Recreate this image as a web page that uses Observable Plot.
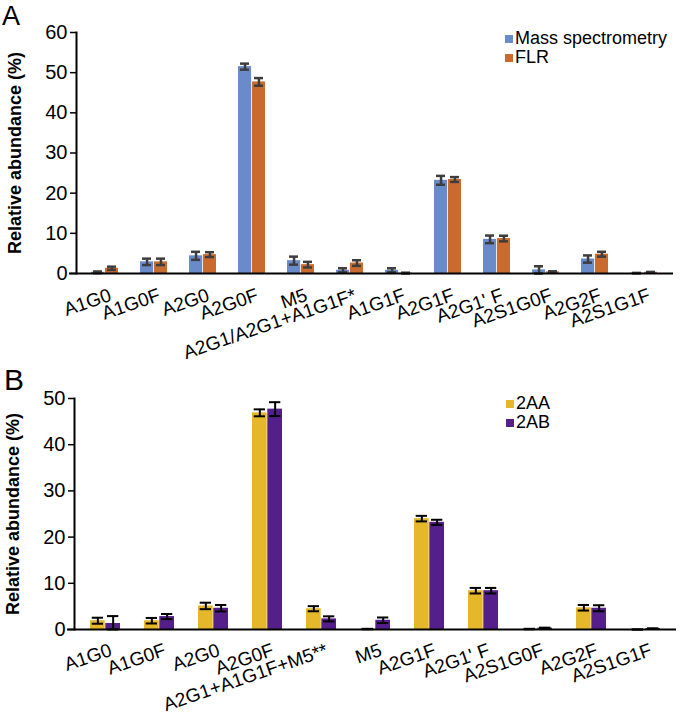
<!DOCTYPE html>
<html><head><meta charset="utf-8">
<script src="https://cdn.jsdelivr.net/npm/d3@7"></script>
<script src="https://cdn.jsdelivr.net/npm/@observablehq/plot@0.6"></script>
<style>
body{margin:0;background:#fff;font-family:"Liberation Sans",Arial,sans-serif;}
#wrap{position:relative;width:680px;height:714px;overflow:hidden;}
.panel{position:absolute;left:0;width:680px;}
.letter{position:absolute;color:#000;line-height:1.15;}
.legend{position:absolute;font-size:18px;color:#000;}
.legend .row{display:flex;align-items:center;height:19px;line-height:19px;white-space:nowrap;}
.legend .sw{display:inline-block;width:8px;height:8px;margin-right:2px;}
</style></head><body>
<div id="wrap">
  <div class="panel" id="pa" style="top:0px"></div>
  <div class="panel" id="pb" style="top:360px"></div>
  <div class="letter" style="left:2px;top:1px;font-size:27px">A</div>
  <div class="letter" style="left:4px;top:363px;font-size:30px">B</div>
  <div class="legend" id="legA" style="left:505px;top:29px"></div>
  <div class="legend" id="legB" style="left:506px;top:394px"></div>
</div>
<script>
// ---------- Panel A data ----------
const catsA = ["A1G0","A1G0F","A2G0","A2G0F","M5","A2G1/A2G1+A1G1F*","A1G1F","A2G1F","A2G1' F","A2S1G0F","A2G2F","A2S1G1F"];
const seriesA = ["Mass spectrometry","FLR"];
const msA     = [0.3, 2.9, 4.4, 51.5, 3.2, 0.8, 0.8, 23.2, 8.5, 0.9, 3.6, 0.1];
const msErrA  = [0.2, 0.8, 1.0, 0.75, 1.0, 0.5, 0.5, 1.1, 0.95, 0.9, 0.9, 0.05];
const flrA    = [1.3, 2.9, 4.7, 47.7, 2.2, 2.6, 0.1, 23.4, 8.7, 0.4, 4.8, 0.3];
const flrErrA = [0.4, 0.8, 0.6, 0.95, 0.7, 0.7, 0.1, 0.6, 0.7, 0.15, 0.6, 0.1];
const ticksA  = [0, 10, 20, 30, 40, 50, 60];

// ---------- Panel B data ----------
const catsB = ["A1G0","A1G0F","A2G0","A2G0F","A2G1+A1G1F+M5**","M5","A2G1F","A2G1' F","A2S1G0F","A2G2F","A2S1G1F"];
const seriesB = ["2AA","2AB"];
const aaB    = [1.9, 1.9, 5.1, 46.9, 4.5, 0.1, 24.0, 8.4, 0.1, 4.7, 0.0];
const aaErrB = [0.65, 0.6, 0.7, 0.75, 0.55, 0.05, 0.6, 0.6, 0.05, 0.6, 0.0];
const abB    = [1.3, 2.8, 4.6, 47.7, 2.3, 2.0, 23.2, 8.4, 0.3, 4.6, 0.2];
const abErrB = [1.6, 0.55, 0.7, 1.5, 0.55, 0.6, 0.55, 0.6, 0.1, 0.65, 0.05];
const ticksB = [0, 10, 20, 30, 40, 50];

const FONT = '"Liberation Sans", Arial, sans-serif';
const LABEL_ANGLE = -19;

function panel({cats, s1, e1, s2, e2, ticks, ymax, height, marginTop, marginBottom, marginLeft, marginRight,
                c1, c2, errColor, errWidth, half, capL, capR, labelDx, labelDy}) {
  const rows = cats.map((c, i) => ({cat: c, v1: s1[i], e1: e1[i], v2: s2[i], e2: e2[i]}));
  const errMarks = (v, e, dx, inL, inR) => [
    Plot.ruleX(rows, {x: "cat", y1: d => Math.max(0, d[v] - d[e]), y2: d => d[v] + d[e], dx, stroke: errColor, strokeWidth: errWidth}),
    Plot.tickY(rows, {x: "cat", y: d => d[v] + d[e], insetLeft: inL, insetRight: inR, stroke: errColor, strokeWidth: errWidth}),
    Plot.tickY(rows, {x: "cat", y: d => Math.max(0, d[v] - d[e]), insetLeft: inL, insetRight: inR, stroke: errColor, strokeWidth: errWidth})
  ];
  return Plot.plot({
    width: 680, height, marginTop, marginBottom, marginLeft, marginRight,
    style: {fontFamily: FONT, fontSize: "18px", color: "#000", background: "transparent", overflow: "visible"},
    x: {domain: cats, paddingInner: 0.44, paddingOuter: 0.22, label: null},
    y: {domain: [0, ymax], label: null},
    marks: [
      Plot.barY(rows, {x: "cat", y: "v1", fill: c1, insetRight: half}),
      Plot.barY(rows, {x: "cat", y: "v2", fill: c2, insetLeft: half}),
      ...errMarks("v1", "e1", -half / 2, capL, capR),
      ...errMarks("v2", "e2", half / 2, capR, capL),
      Plot.ruleY([0], {stroke: "#000", strokeWidth: 2, insetLeft: -7}),
      Plot.frame({anchor: "left", stroke: "#000", strokeWidth: 2}),
      Plot.axisY({ticks, tickSize: 6, tickPadding: 3, fontSize: 20, label: null, strokeWidth: 1.5}),
      Plot.axisX({ticks: [], label: null}),
      Plot.text(cats, {x: d => d, text: d => d, frameAnchor: "bottom", dx: labelDx, dy: labelDy, rotate: LABEL_ANGLE,
                       textAnchor: "end", lineAnchor: "top", fontSize: 19}),
      Plot.text(["Relative abundance (%)"], {text: d => d, frameAnchor: "left", rotate: -90, dx: -61,
                       textAnchor: "middle", lineAnchor: "middle", fontWeight: "bold", fontSize: 18})
    ]
  });
}

document.getElementById("pa").append(panel({
  cats: catsA, s1: msA, e1: msErrA, s2: flrA, e2: flrErrA, ticks: ticksA, ymax: 60,
  height: 360, marginTop: 32, marginBottom: 87, marginLeft: 76, marginRight: 7,
  c1: "#6a8bca", c2: "#c96b2f", errColor: "#3d3d3d", errWidth: 2.5,
  half: 13.9, capL: 2, capR: 16, labelDx: 3, labelDy: 14
}));
document.getElementById("pb").append(panel({
  cats: catsB, s1: aaB, e1: aaErrB, s2: abB, e2: abErrB, ticks: ticksB, ymax: 50,
  height: 354, marginTop: 38, marginBottom: 85, marginLeft: 74, marginRight: 4,
  c1: "#e5b72b", c2: "#551f8b", errColor: "#000", errWidth: 2,
  half: 15.3, capL: 1.7, capR: 17, labelDx: 3, labelDy: 13
}));

function legend(id, names, colors) {
  const el = document.getElementById(id);
  names.forEach((n, i) => {
    const r = document.createElement("div"); r.className = "row";
    const s = document.createElement("span"); s.className = "sw"; s.style.background = colors[i];
    const t = document.createElement("span"); t.textContent = n;
    r.append(s, t); el.append(r);
  });
}
legend("legA", seriesA, ["#6a8bca", "#c96b2f"]);
legend("legB", seriesB, ["#e5b72b", "#551f8b"]);
</script>
</body></html>
